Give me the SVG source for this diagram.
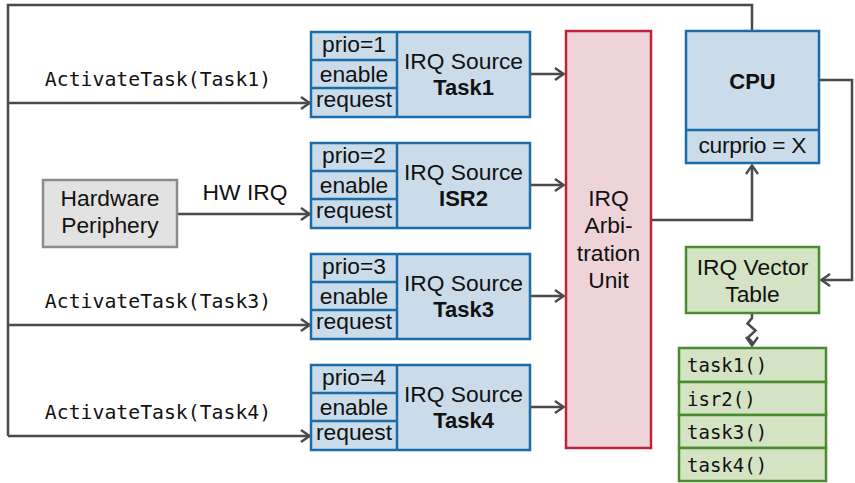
<svg xmlns="http://www.w3.org/2000/svg" width="855" height="483" viewBox="0 0 855 483">
  <defs>
    <marker id="arrow" viewBox="0 0 12 14" refX="11" refY="7" markerWidth="12" markerHeight="14" markerUnits="userSpaceOnUse" orient="auto">
      <path d="M2,1 L10.5,7 L2,13" fill="none" stroke="#4a4a4a" stroke-width="2.4"/>
    </marker>
    <style>
      .src rect { fill: #cadcea; stroke: #1b6ca8; stroke-width: 2.5; }
      .src line { stroke: #1b6ca8; stroke-width: 2.5; }
      .sans { font-family: "Liberation Sans", Arial, sans-serif; font-size: 22.8px; fill: #111; }
      .bold { font-weight: bold; font-size: 22px; }
      .mono { font-family: "DejaVu Sans Mono", "Liberation Mono", monospace; font-size: 19px; fill: #111; }
      .label { font-size: 19.8px; }
      .mid { text-anchor: middle; }
      .wire { fill: none; stroke: #4a4a4a; stroke-width: 2.5; }
      .green rect { fill: #d3e3c3; stroke: #4b8b2f; stroke-width: 2.5; }
    </style>
  </defs>

  <g id="connectors">
    <!-- CPU feedback to task activation requests -->
    <path class="wire" d="M752,31 V5 H8 V436"/>
    <path class="wire" d="M8,103 H310" marker-end="url(#arrow)"/>
    <path class="wire" d="M8,325 H310" marker-end="url(#arrow)"/>
    <path class="wire" d="M8,436 H310" marker-end="url(#arrow)"/>
    <!-- hardware interrupt line -->
    <path class="wire" d="M177,214 H310" marker-end="url(#arrow)"/>
    <!-- sources to arbitration -->
    <path class="wire" d="M530,74 H564" marker-end="url(#arrow)"/>
    <path class="wire" d="M530,185 H564" marker-end="url(#arrow)"/>
    <path class="wire" d="M530,296 H564" marker-end="url(#arrow)"/>
    <path class="wire" d="M530,407 H564" marker-end="url(#arrow)"/>
    <!-- arbitration to CPU -->
    <path class="wire" d="M651,220 H752 V165" marker-end="url(#arrow)"/>
    <!-- CPU to vector table -->
    <path class="wire" d="M819,80 H852 V280 H821" marker-end="url(#arrow)"/>
    <!-- vector table lookup -->
    <path class="wire" d="M752,313 V318 L747.5,323.5 L755.5,330.5 L748,337.5 L752,342 V346" marker-end="url(#arrow)"/>
  </g>

  <g class="mono label mid">
    <text x="158" y="86">ActivateTask(Task1)</text>
    <text x="158" y="308">ActivateTask(Task3)</text>
    <text x="158" y="419">ActivateTask(Task4)</text>
  </g>
  <text class="sans mid" x="245" y="200">HW IRQ</text>

  <g id="hw-periphery">
    <rect x="43" y="180" width="134" height="67" fill="#e2e2e2" stroke="#8c8c8c" stroke-width="2.5"/>
    <text class="sans mid" x="110" y="206">Hardware</text>
    <text class="sans mid" x="110" y="233">Periphery</text>
  </g>

  <g id="src-task1" class="src" transform="translate(0,32)">
    <rect x="311" y="0" width="219" height="85"/>
    <line x1="397" y1="0" x2="397" y2="85"/>
    <line x1="311" y1="28" x2="397" y2="28"/>
    <line x1="311" y1="56" x2="397" y2="56"/>
    <text class="sans mid" x="354" y="20">prio=1</text>
    <text class="sans mid" x="354" y="50">enable</text>
    <text class="sans mid" x="354" y="75">request</text>
    <text class="sans mid" x="463.5" y="37">IRQ Source</text>
    <text class="sans mid bold" x="463.5" y="63">Task1</text>
  </g>

  <g id="src-isr2" class="src" transform="translate(0,143)">
    <rect x="311" y="0" width="219" height="85"/>
    <line x1="397" y1="0" x2="397" y2="85"/>
    <line x1="311" y1="28" x2="397" y2="28"/>
    <line x1="311" y1="56" x2="397" y2="56"/>
    <text class="sans mid" x="354" y="20">prio=2</text>
    <text class="sans mid" x="354" y="50">enable</text>
    <text class="sans mid" x="354" y="75">request</text>
    <text class="sans mid" x="463.5" y="37">IRQ Source</text>
    <text class="sans mid bold" x="463.5" y="63">ISR2</text>
  </g>

  <g id="src-task3" class="src" transform="translate(0,254)">
    <rect x="311" y="0" width="219" height="85"/>
    <line x1="397" y1="0" x2="397" y2="85"/>
    <line x1="311" y1="28" x2="397" y2="28"/>
    <line x1="311" y1="56" x2="397" y2="56"/>
    <text class="sans mid" x="354" y="20">prio=3</text>
    <text class="sans mid" x="354" y="50">enable</text>
    <text class="sans mid" x="354" y="75">request</text>
    <text class="sans mid" x="463.5" y="37">IRQ Source</text>
    <text class="sans mid bold" x="463.5" y="63">Task3</text>
  </g>

  <g id="src-task4" class="src" transform="translate(0,365)">
    <rect x="311" y="0" width="219" height="85"/>
    <line x1="397" y1="0" x2="397" y2="85"/>
    <line x1="311" y1="28" x2="397" y2="28"/>
    <line x1="311" y1="56" x2="397" y2="56"/>
    <text class="sans mid" x="354" y="20">prio=4</text>
    <text class="sans mid" x="354" y="50">enable</text>
    <text class="sans mid" x="354" y="75">request</text>
    <text class="sans mid" x="463.5" y="37">IRQ Source</text>
    <text class="sans mid bold" x="463.5" y="63">Task4</text>
  </g>

  <g id="arbitration">
    <rect x="566" y="31" width="85" height="417" fill="#eed3d8" stroke="#c0223a" stroke-width="2.5"/>
    <text class="sans mid" x="608.5" y="206">IRQ</text>
    <text class="sans mid" x="608.5" y="233">Arbi-</text>
    <text class="sans mid" x="608.5" y="261">tration</text>
    <text class="sans mid" x="608.5" y="288">Unit</text>
  </g>

  <g id="cpu" class="src">
    <rect x="686" y="31" width="133" height="132"/>
    <line x1="686" y1="130" x2="819" y2="130"/>
    <text class="sans mid bold" x="752.5" y="89">CPU</text>
    <text class="sans mid" x="752.5" y="153" textLength="108" lengthAdjust="spacing">curprio = X</text>
  </g>

  <g id="vector-table" class="green">
    <rect x="686" y="247" width="133" height="66"/>
    <text class="sans mid" x="752.5" y="275">IRQ Vector</text>
    <text class="sans mid" x="752.5" y="302">Table</text>
  </g>

  <g id="handlers" class="green">
    <rect x="679" y="348" width="147" height="34"/>
    <rect x="679" y="382" width="147" height="33"/>
    <rect x="679" y="415" width="147" height="33"/>
    <rect x="679" y="448" width="147" height="33"/>
    <text class="mono" x="687" y="372">task1()</text>
    <text class="mono" x="687" y="406">isr2()</text>
    <text class="mono" x="687" y="439">task3()</text>
    <text class="mono" x="687" y="472">task4()</text>
  </g>
</svg>
